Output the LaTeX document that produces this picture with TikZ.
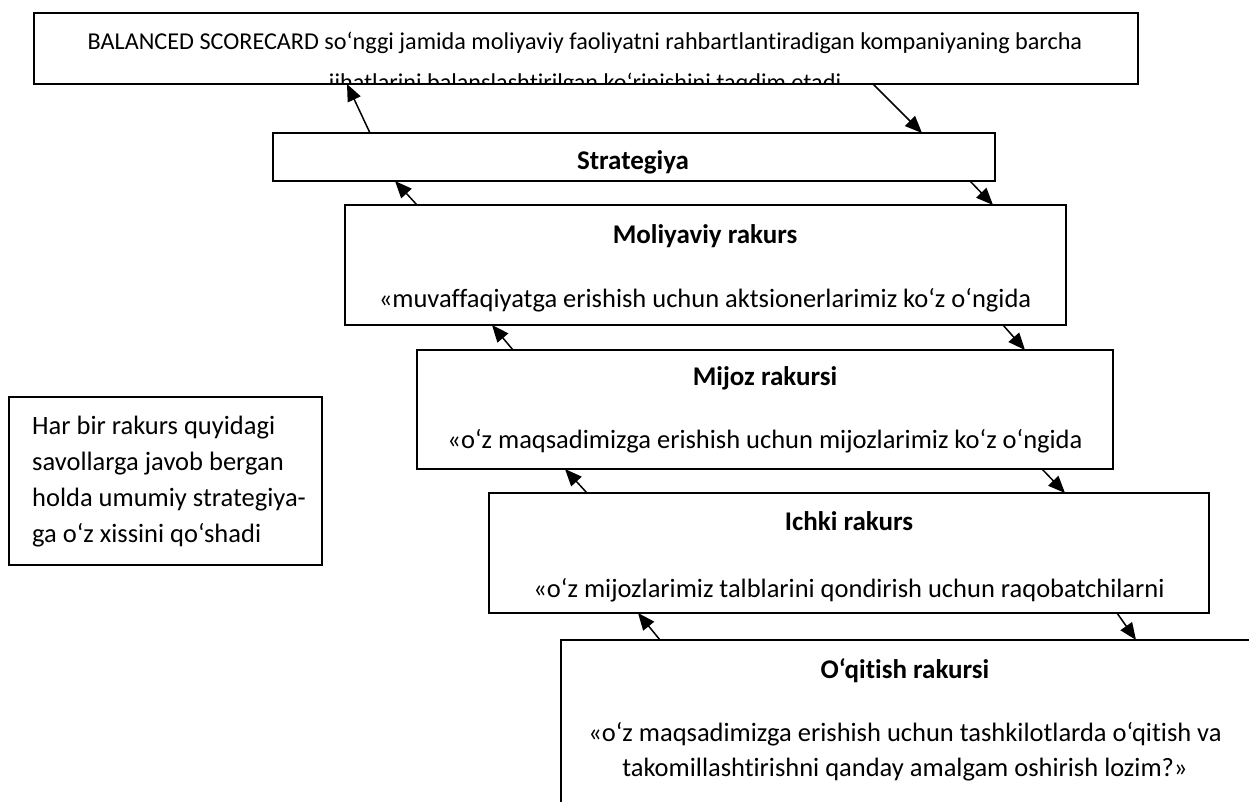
\documentclass[tikz,border=0pt]{standalone}
\usepackage{fontspec}
\setmainfont{Carlito}[Ligatures=NoCommon]
\usetikzlibrary{arrows.meta}
\begin{document}
\begin{tikzpicture}[x=1pt,y=-1pt,
  box/.style={draw, line width=2.2pt, inner sep=0pt, outer sep=0pt, anchor=north west},
  link/.style={line width=1.5pt, -{Triangle[length=17pt,width=14pt]}},
  body/.style={font=\fontsize{26.5}{36}\selectfont, inner sep=0pt, anchor=base},
  lead/.style={body, font=\fontsize{24.2}{36}\selectfont},
  head/.style={body, font=\fontsize{27}{36}\selectfont\bfseries},
  note/.style={body, anchor=base west}]
\useasboundingbox (0,0) rectangle (1249,801);
\clip (0,0) rectangle (1249,801);

% boxes of the scorecard cascade
\node[box, minimum width=1104pt, minimum height=71pt]  (bsc)   at (34,13)   {};
\node[box, minimum width=722pt,  minimum height=48pt]  (strat) at (273,133) {};
\node[box, minimum width=721pt,  minimum height=120pt] (mol)   at (345,205) {};
\node[box, minimum width=696pt,  minimum height=119pt] (mij)   at (417,350) {};
\node[box, minimum width=720pt,  minimum height=120pt] (ich)   at (489,493) {};
\node[box, minimum width=691pt,  minimum height=200pt] (oq)    at (561,640) {};
\node[box, minimum width=313pt,  minimum height=168pt] (side)  at (9,397)   {};

% heading text, cut off by the frame
\begin{scope}
  \clip (35.1,14.1) rectangle (1136.9,82.9);
  \node[lead] (bscA) at (585,49) {BALANCED SCORECARD so‘nggi jamida moliyaviy faoliyatni rahbartlantiradigan kompaniyaning barcha};
  \node[lead] (bscB) at (585,90) {jihatlarini balanslashtirilgan ko‘rinishini taqdim etadi};
\end{scope}

\node[head] (stratT) at (633,169) {Strategiya};

\node[head] (molT) at (705,243) {Moliyaviy rakurs};
\node[body] (molQ) at (705,307) {«muvaffaqiyatga erishish uchun aktsionerlarimiz ko‘z o‘ngida};

\node[head] (mijT) at (765,385) {Mijoz rakursi};
\node[body] (mijQ) at (765,448) {«o‘z maqsadimizga erishish uchun mijozlarimiz ko‘z o‘ngida};

\node[head] (ichT) at (849,530) {Ichki rakurs};
\node[body] (ichQ) at (849,597) {«o‘z mijozlarimiz talblarini qondirish uchun raqobatchilarni};

\node[head] (oqT)  at (905,678) {O‘qitish rakursi};
\node[body] (oqQ1) at (905,741) {«o‘z maqsadimizga erishish uchun tashkilotlarda o‘qitish va};
\node[body] (oqQ2) at (905,776) {takomillashtirishni qanday amalgam oshirish lozim?»};

\node[note] (s1) at (32,434) {Har bir rakurs quyidagi};
\node[note] (s2) at (32,470) {savollarga javob bergan};
\node[note] (s3) at (32,506) {holda umumiy strategiya-};
\node[note] (s4) at (32,542) {ga o‘z xissini qo‘shadi};

% upward links on the left
\draw[link] ([xshift=97pt]strat.north west) -- ([xshift=313pt]bsc.south west);
\draw[link] ([xshift=72pt]mol.north west)   -- ([xshift=122pt]strat.south west);
\draw[link] ([xshift=96pt]mij.north west)   -- ([xshift=147pt]mol.south west);
\draw[link] ([xshift=98pt]ich.north west)   -- ([xshift=148pt]mij.south west);
\draw[link] ([xshift=99pt]oq.north west)    -- ([xshift=149pt]ich.south west);

% downward links on the right
\draw[link] ([xshift=839pt]bsc.south west)   -- ([xshift=649pt]strat.north west);
\draw[link] ([xshift=697pt]strat.south west) -- ([xshift=648pt]mol.north west);
\draw[link] ([xshift=658pt]mol.south west)   -- ([xshift=608pt]mij.north west);
\draw[link] ([xshift=625pt]mij.south west)   -- ([xshift=576pt]ich.north west);
\draw[link] ([xshift=628pt]ich.south west)   -- ([xshift=575pt]oq.north west);
\end{tikzpicture}
\end{document}
